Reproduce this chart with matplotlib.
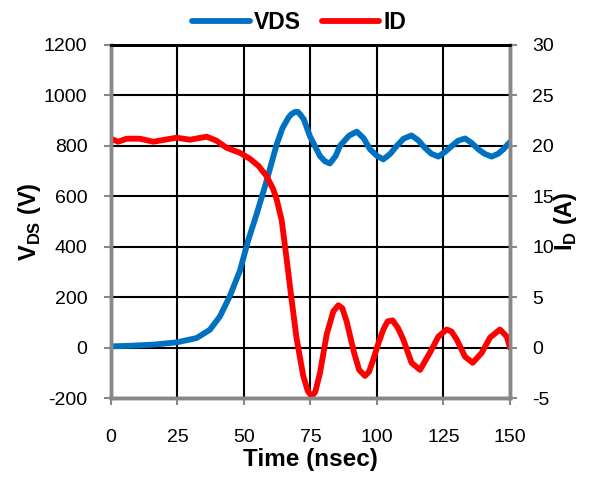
import matplotlib.pyplot as plt

plt.rcParams['font.family'] = ['Liberation Sans', 'DejaVu Sans']
plt.rcParams['axes.unicode_minus'] = False
plt.rcParams['mathtext.fontset'] = 'custom'
plt.rcParams['mathtext.bf'] = 'Liberation Sans:bold'
plt.rcParams['mathtext.rm'] = 'Liberation Sans:bold'

# VDS (V) vs time (nsec)
t_vds = [0, 8.4, 15.9, 24.7, 32.2, 37.2, 41, 44.7, 48.5, 51.6, 54.8, 58.5, 62.3,
         64.5, 66.7, 67.8, 69.2, 70.3, 71.1, 72.5, 74.8, 78.6, 80.5, 82.3, 84.5,
         86.1, 89.5, 92.4, 95, 97.4, 100, 102.4, 105, 107.4, 110, 113, 115.5,
         118, 120.5, 123.1, 125.5, 128.1, 130.5, 133.1, 135.5, 138.1, 140.5,
         143.1, 145.5, 147.5, 150]
vds = [5, 8, 12, 21, 38, 71, 124, 204, 305, 425, 530, 660, 805,
       870, 911, 925, 934, 934, 925, 905, 838, 759, 738, 730, 760,
       800, 840, 856, 830, 786, 760, 746, 768, 799, 828, 841, 822,
       792, 768, 757, 775, 799, 820, 829, 812, 786, 768,
       757, 768, 786, 815]

# ID (A) vs time (nsec)
t_id = [0, 2.7, 5.9, 10.9, 15.9, 20.3, 24.7, 29.7, 36, 39.7, 43.5, 48.5, 52.3,
        55.5, 58.5, 61, 62.3, 64.2, 66, 67.9, 69.8, 72.3, 74, 75.4, 76.8, 78.6,
        81.1, 83.6, 85.5, 87, 88.6, 91.4, 93.3, 95.5, 97, 98.6, 100.5, 102.4,
        104, 105.9, 108, 109.9, 113, 116.2, 119.9, 123.1, 126.2, 128, 130,
        133.1, 136, 139.4, 142.5, 146.2, 148.8, 150]
i_d = [20.7, 20.4, 20.7, 20.7, 20.4, 20.6, 20.8, 20.6, 20.9, 20.5, 19.8, 19.3, 18.7,
       18.0, 17.0, 15.7, 14.7, 12.6, 8.9, 4.8, 0.9, -2.8, -4.3, -4.8, -4.4, -2.5,
       1.3, 3.6, 4.2, 3.9, 2.6, -0.5, -2.2, -2.8, -2.4, -1.2, 0.4, 1.8,
       2.6, 2.7, 1.9, 0.8, -1.5, -2.2, -0.5, 1.1, 1.8, 1.6, 0.8,
       -0.9, -1.5, -0.5, 1.0, 1.8, 1.1, 0.0]

x_ticks = [0, 25, 50, 75, 100, 125, 150]

fig = plt.figure(figsize=(5.93, 4.82), dpi=100)
ax = fig.add_axes([0.187, 0.174, 0.673, 0.733])
ax2 = ax.twinx()

l1, = ax.plot(t_vds, vds, color='#0070C0', lw=4.2, solid_capstyle='round',
              solid_joinstyle='round', label='VDS')
l2, = ax2.plot(t_id, i_d, color='#FF0000', lw=4.2, solid_capstyle='round',
               solid_joinstyle='round', label='ID')

ax.set_xlim(0, 150)
ax.set_ylim(-200, 1200)
ax2.set_ylim(-5, 30)
ax.set_xticks(x_ticks)
ax.set_yticks(range(-200, 1201, 200))
ax2.set_yticks(range(-5, 31, 5))
ax.grid(True, color='black', lw=1.5)
ax.set_axisbelow(True)

for a in (ax, ax2):
    for s in ('left', 'right', 'bottom'):
        a.spines[s].set_color('#888888')
        a.spines[s].set_linewidth(2.5)
    a.spines['top'].set_color('black')
    a.spines['top'].set_linewidth(2)
    a.tick_params(colors='#888888', labelcolor='black', labelsize=14, width=1.5, length=5)

ax.tick_params(axis='y', pad=12)
ax.tick_params(axis='x', pad=17)
ax2.tick_params(axis='y', pad=11)

ax.set_xlabel('Time (nsec)', fontsize=17.5, fontweight='bold', labelpad=2)
ax.set_ylabel('V$_{\\mathrm{DS}}$ (V)', fontsize=17, fontweight='bold')
ax2.set_ylabel('I$_{\\mathrm{D}}$ (A)', fontsize=17, fontweight='bold', rotation=90)
ax.yaxis.set_label_coords(-0.17, 0.5)
ax2.yaxis.set_label_coords(1.105, 0.5)

fig.legend(handles=[l1, l2], loc='upper center', bbox_to_anchor=(0.505, 1.02), ncol=2,
           frameon=False, prop={'weight': 'bold', 'size': 16.5}, handlelength=2.5,
           columnspacing=0.9, handletextpad=0.2)

fig.savefig('out.png', dpi=100)
